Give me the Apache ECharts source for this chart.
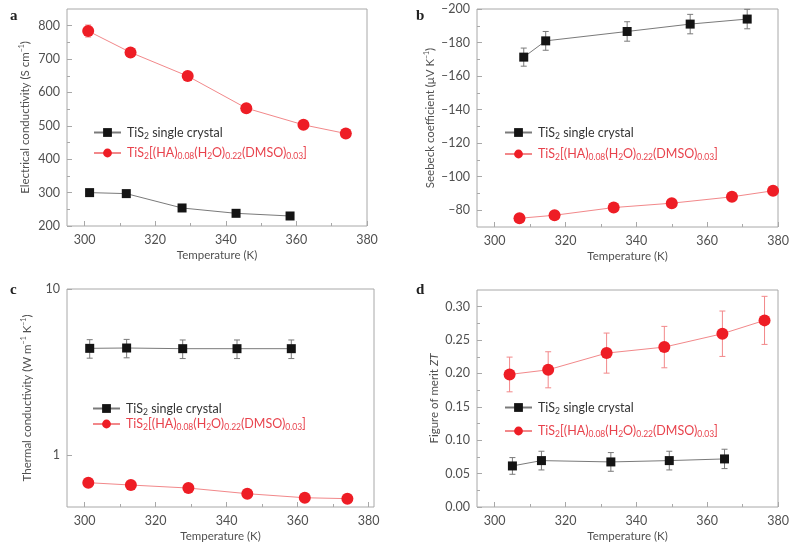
<!DOCTYPE html>
<html><head><meta charset="utf-8">
<script src="https://cdn.jsdelivr.net/npm/echarts@6/dist/echarts.min.js"></script>
<style>html,body{margin:0;padding:0;background:#fff}#c{width:795px;height:547px}</style>
</head><body><div id="c"></div>
<script>
// ---------- series names ----------
const nameK = 'TiS2 single crystal';
const nameR = 'TiS2[(HA)0.08(H2O)0.22(DMSO)0.03]';

// ---------- panel a: electrical conductivity ----------
const aRedT = [301.0, 313.0, 329.2, 345.8, 362.0, 374.0];
const aRedV = [784, 720, 649, 553, 503, 477];
const aRedErr = [18, 10, 8, 8, 6, 6];
const aBlkT = [301.4, 311.8, 327.6, 342.9, 358.2];
const aBlkV = [300, 297, 254, 238, 230];

// ---------- panel b: Seebeck coefficient ----------
const bBlkT = [308.2, 314.4, 337.4, 355.2, 371.3];
const bBlkV = [-171.3, -181.0, -186.6, -191.0, -194.0];
const bBlkErr = [5.4, 5.6, 5.8, 5.8, 5.8];
const bRedT = [307.0, 316.9, 333.6, 350.0, 367.0, 378.6];
const bRedV = [-75.2, -77.0, -81.6, -84.2, -88.0, -91.6];

// ---------- panel c: thermal conductivity ----------
const cBlkT = [301.4, 311.8, 327.6, 342.9, 358.2];
const cBlkV = [4.40, 4.42, 4.38, 4.38, 4.38];
const cBlkErr = [0.56, 0.56, 0.56, 0.56, 0.56];
const cRedT = [301.0, 313.0, 329.2, 345.8, 362.0, 374.0];
const cRedV = [0.686, 0.664, 0.637, 0.589, 0.557, 0.550];

// ---------- panel d: figure of merit ZT ----------
const dRedT = [304.2, 315.1, 331.6, 347.9, 364.3, 376.2];
const dRedV = [0.1985, 0.2055, 0.2305, 0.2395, 0.2595, 0.2795];
const dRedErr = [0.026, 0.027, 0.030, 0.031, 0.034, 0.036];
const dBlkT = [305.0, 313.2, 332.8, 349.3, 364.9];
const dBlkV = [0.0615, 0.0695, 0.0675, 0.0695, 0.0720];
const dBlkErr = [0.0125, 0.014, 0.014, 0.014, 0.0145];

// ---------- tick values ----------
const xMajor = [300, 320, 340, 360, 380];
const xMinor = [310, 330, 350, 370];
const aYMajor = [200, 300, 400, 500, 600, 700, 800];
const aYMinor = [250, 350, 450, 550, 650, 750];
const bYMajor = [-200, -180, -160, -140, -120, -100, -80];
const bYMinor = [-190, -170, -150, -130, -110, -90];
const cYMajor = [1, 10];
const dYMajor = [0, 0.05, 0.10, 0.15, 0.20, 0.25, 0.30];
const dYMinor = [0.025, 0.075, 0.125, 0.175, 0.225, 0.275];

// ---------- styling ----------
const FONT = 'Lato';
const frame = '#a8a8a8';
const labelColor = '#505050';
const redMark = '#ee1d25';
const redLine = '#f2888a';
const redText = '#e8434d';
const blkMark = '#141414';
const blkLine = '#7a7a7a';

const zip = (a, b) => a.map((v, i) => [v, b[i]]);
const errData = (t, v, e) => t.map((x, i) => [x, v[i] - e[i], v[i] + e[i]]);

function errSeries(xi, data, color) {
  return {
    type: 'custom', xAxisIndex: xi, yAxisIndex: xi, z: 1, silent: true,
    encode: { x: 0, y: [1, 2] },
    data: data,
    renderItem: function (params, api) {
      const x = api.value(0);
      const p1 = api.coord([x, api.value(2)]);
      const p2 = api.coord([x, api.value(1)]);
      const w = 3;
      const st = { stroke: color, lineWidth: 1 };
      return { type: 'group', children: [
        { type: 'line', shape: { x1: p1[0], y1: p1[1], x2: p2[0], y2: p2[1] }, style: st },
        { type: 'line', shape: { x1: p1[0] - w, y1: p1[1], x2: p1[0] + w, y2: p1[1] }, style: st },
        { type: 'line', shape: { x1: p2[0] - w, y1: p2[1], x2: p2[0] + w, y2: p2[1] }, style: st }
      ]};
    }
  };
}
function lineK(ai, t, v) {
  return { name: nameK, type: 'line', xAxisIndex: ai, yAxisIndex: ai, z: 3,
    data: zip(t, v), symbol: 'rect', symbolSize: 9,
    itemStyle: { color: blkMark }, lineStyle: { color: blkLine, width: 1 } };
}
function lineR(ai, t, v) {
  return { name: nameR, type: 'line', xAxisIndex: ai, yAxisIndex: ai, z: 3,
    data: zip(t, v), symbol: 'circle', symbolSize: 12,
    itemStyle: { color: redMark }, lineStyle: { color: redLine, width: 1 } };
}

const tickStyle = { color: frame, width: 1 };
function xAxisPair(gi, min, max) {
  return [
    { type: 'value', gridIndex: gi, min: min, max: max, position: 'bottom',
      axisLine: { show: false }, splitLine: { show: false },
      axisTick: { show: true, inside: true, length: 5, lineStyle: tickStyle, customValues: xMajor },
      axisLabel: { customValues: xMajor, color: labelColor, fontSize: 12.5, fontFamily: FONT, margin: 7 },
      name: 'Temperature (K)', nameLocation: 'middle', nameGap: 23,
      nameTextStyle: { color: labelColor, fontSize: 11.5, fontFamily: FONT } },
    { type: 'value', gridIndex: gi, min: min, max: max, position: 'bottom',
      axisLine: { show: false }, splitLine: { show: false },
      axisTick: { show: true, inside: true, length: 3, lineStyle: tickStyle, customValues: xMinor },
      axisLabel: { show: false } }
  ];
}
const nameRich = {
  sup: { fontSize: 7, fontFamily: FONT, color: labelColor, verticalAlign: 'top', lineHeight: 8 },
  it: { fontSize: 11.5, fontFamily: FONT, color: labelColor, fontStyle: 'italic', lineHeight: 14 }
};
function yAxisPair(gi, opt) {
  const main = { type: opt.type || 'value', gridIndex: gi, min: opt.min, max: opt.max, position: 'left',
    inverse: !!opt.inverse,
    axisLine: { show: false }, splitLine: { show: false },
    axisTick: { show: true, inside: true, length: 5, lineStyle: tickStyle, customValues: opt.major },
    axisLabel: { customValues: opt.major, color: labelColor, fontSize: 12.5, fontFamily: FONT, margin: 7,
      formatter: opt.fmt },
    name: opt.name, nameLocation: 'middle', nameGap: opt.gap,
    nameTextStyle: { color: labelColor, fontSize: 11.5, fontFamily: FONT, lineHeight: 14, rich: nameRich } };
  const res = [main];
  if (opt.minor) {
    res.push({ type: opt.type || 'value', gridIndex: gi, min: opt.min, max: opt.max, position: 'left',
      inverse: !!opt.inverse,
      axisLine: { show: false }, splitLine: { show: false },
      axisTick: { show: true, inside: true, length: 3, lineStyle: tickStyle, customValues: opt.minor },
      axisLabel: { show: false } });
  }
  return res;
}

const xAxes = [];
const xMinors = [];
[[0, 295, 380], [1, 295, 380], [2, 295, 381.5], [3, 295, 380]].forEach(([g, a, b]) => {
  const p = xAxisPair(g, a, b); xAxes.push(p[0]); xMinors.push(p[1]);
});
const yA = yAxisPair(0, { min: 200, max: 850, major: aYMajor, minor: aYMinor, gap: 35,
  name: 'Electrical conductivity (S cm{sup|−1})' });
const yB = yAxisPair(1, { min: -200, max: -70, inverse: true, major: bYMajor, minor: bYMinor, gap: 35,
  fmt: v => String(v).replace('-', '–'),
  name: 'Seebeck coefficient (μV K{sup|−1})' });
const yC = yAxisPair(2, { type: 'log', min: 0.49, max: 10, major: cYMajor, gap: 33,
  name: 'Thermal conductivity (W m{sup|−1} K{sup|−1})' });
const yD = yAxisPair(3, { min: 0, max: 0.325, major: dYMajor, minor: dYMinor, gap: 35,
  fmt: v => v.toFixed(2),
  name: 'Figure of merit {it|ZT}' });
const yAxes = [yA[0], yB[0], yC[0], yD[0], yA[1], yB[1], yD[1]];

const legRich = {
  k: { color: '#333', fontSize: 12.5, fontFamily: FONT, lineHeight: 16 },
  ks: { color: '#333', fontSize: 8.5, fontFamily: FONT, lineHeight: 9, verticalAlign: 'bottom' },
  r: { color: redText, fontSize: 12.5, fontFamily: FONT, lineHeight: 16 },
  rs: { color: redText, fontSize: 8.5, fontFamily: FONT, lineHeight: 9, verticalAlign: 'bottom' }
};
function legFmt(n) {
  if (n === nameK) return '{k|TiS}{ks|2}{k| single crystal}';
  return '{r|TiS}{rs|2}{r|[(HA)}{rs|0.08}{r|(H}{rs|2}{r|O)}{rs|0.22}{r|(DMSO)}{rs|0.03}{r|]}';
}
function legend(left, top, gap) {
  return { left: left, top: top, orient: 'vertical', itemGap: gap, itemWidth: 27, itemHeight: 11,
    selectedMode: false, data: [nameK, nameR], formatter: legFmt,
    textStyle: { rich: legRich, padding: [0, 0, 0, 1] } };
}

const panelLbl = (t, l, tp) => ({ text: t, left: l, top: tp,
  textStyle: { fontFamily: 'Liberation Serif', fontWeight: 'bold', fontSize: 15, color: '#222' } });

const option = {
  animation: false,
  backgroundColor: '#fff',
  title: [panelLbl('a', 5, 4), panelLbl('b', 411, 4), panelLbl('c', 5, 278), panelLbl('d', 411, 278)],
  grid: [
    { left: 67, top: 9, width: 300, height: 217, show: true, borderColor: frame, borderWidth: 1, outerBoundsMode: 'none' },
    { left: 477, top: 9, width: 301, height: 218, show: true, borderColor: frame, borderWidth: 1, outerBoundsMode: 'none' },
    { left: 67, top: 289, width: 307, height: 218, show: true, borderColor: frame, borderWidth: 1, outerBoundsMode: 'none' },
    { left: 477, top: 290, width: 301, height: 217, show: true, borderColor: frame, borderWidth: 1, outerBoundsMode: 'none' }
  ],
  xAxis: xAxes.concat(xMinors),
  yAxis: yAxes,
  legend: [legend(88, 121, 6), legend(499, 121, 7), legend(87, 397, 1), legend(499, 396, 9)],
  series: [
    errSeries(0, errData(aRedT, aRedV, aRedErr), redLine),
    lineK(0, aBlkT, aBlkV), lineR(0, aRedT, aRedV),
    errSeries(1, errData(bBlkT, bBlkV, bBlkErr), blkLine),
    lineK(1, bBlkT, bBlkV), lineR(1, bRedT, bRedV),
    errSeries(2, errData(cBlkT, cBlkV, cBlkErr), blkLine),
    lineK(2, cBlkT, cBlkV), lineR(2, cRedT, cRedV),
    errSeries(3, errData(dRedT, dRedV, dRedErr), redLine),
    errSeries(3, errData(dBlkT, dBlkV, dBlkErr), blkLine),
    lineK(3, dBlkT, dBlkV), lineR(3, dRedT, dRedV)
  ]
};
const chart = echarts.init(document.getElementById('c'), null, { renderer: 'canvas' });
chart.setOption(option);
</script></body></html>
